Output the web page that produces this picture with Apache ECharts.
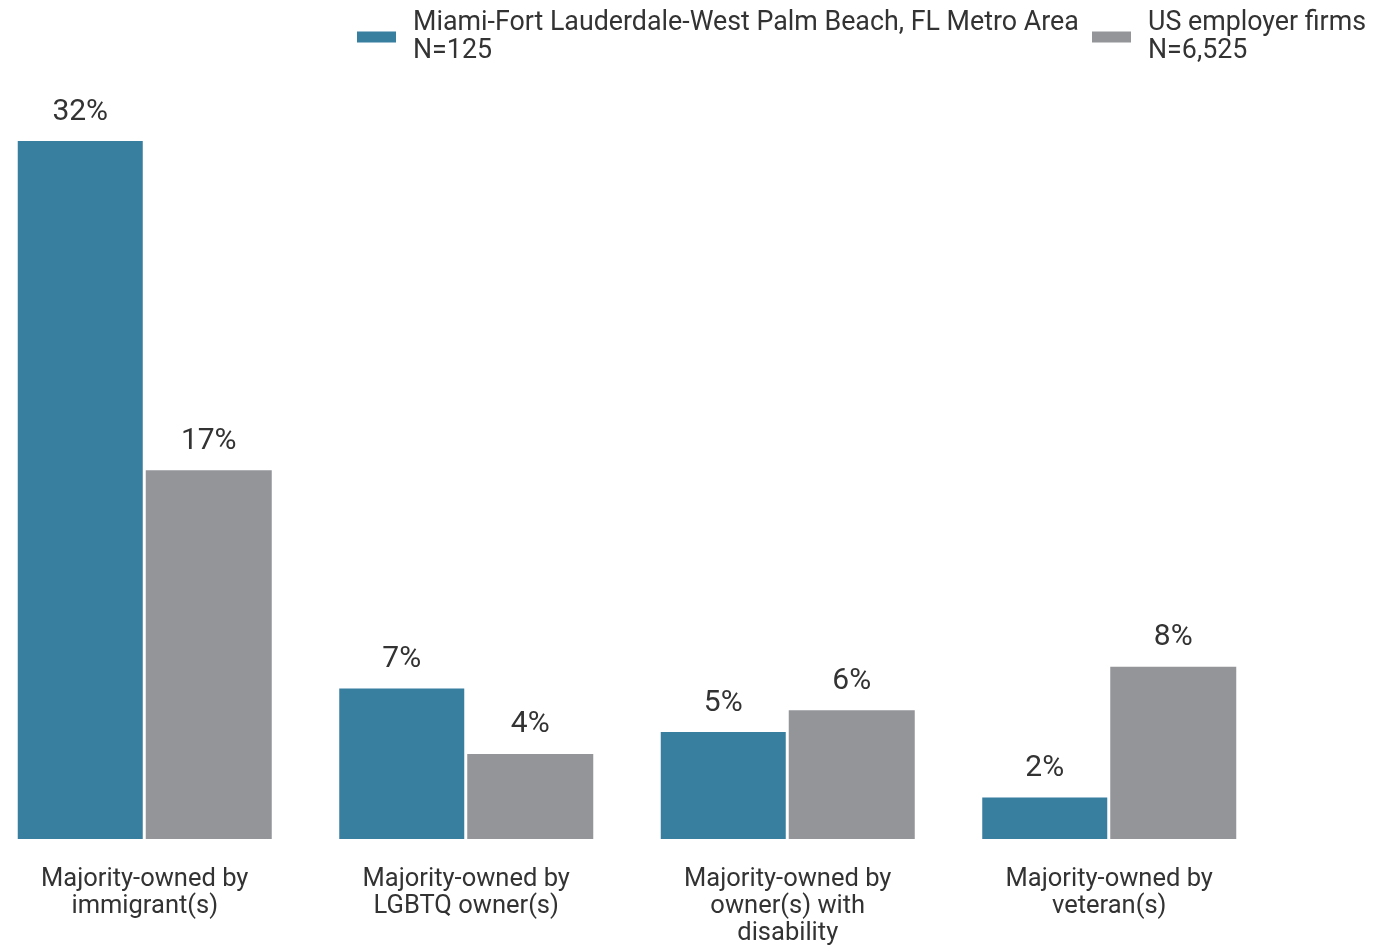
<!DOCTYPE html>
<html>
<head>
<meta charset="UTF-8">
<title></title>
<style>
  html, body { margin: 0; padding: 0; background: #fff; overflow: hidden; }
  #main { width: 1389px; height: 947px; margin-left: -16px; }
</style>
</head>
<body>
<div id="main"></div>
<script type="text/javascript" src="https://cdn.jsdelivr.net/npm/echarts@6/dist/echarts.min.js"></script>
<script type="text/javascript">
var categories = ['Majority-owned by\nimmigrant(s)', 'Majority-owned by\nLGBTQ owner(s)', 'Majority-owned by\nowner(s) with\ndisability', 'Majority-owned by\nveteran(s)'];
var seriesNames = ['Miami-Fort Lauderdale-West Palm Beach, FL Metro Area\nN=125', 'US employer firms\nN=6,525'];
var miamiValues = [32, 6.9, 4.9, 1.9];
var usValues = [16.9, 3.9, 5.9, 7.9];
var colors = ['#377e9f', '#939598'];

var myChart = echarts.init(document.getElementById('main'));
var font = 'Roboto, "Noto Sans", sans-serif';

var barLabel = {
	show: true,
	position: 'top',
	distance: 14,
	fontSize: 30,
	fontFamily: font,
	color: '#333',
	formatter: function (p) { return Math.round(p.value) + '%'; }
};

var legendText = { fontSize: 26.8, lineHeight: 28, color: '#333', fontFamily: font, padding: [0, 0, 0, 12] };

var option = {
	color: colors,
	animation: false,
	textStyle: { fontFamily: font },
	legend: [{
		data: [seriesNames[0]],
		icon: 'rect',
		left: 368,
		top: 4,
		itemWidth: 39,
		itemHeight: 11,
		textStyle: legendText
	}, {
		data: [seriesNames[1]],
		icon: 'rect',
		left: 1103,
		top: 4,
		itemWidth: 39,
		itemHeight: 11,
		textStyle: legendText
	}],
	grid: {
		left: 0,
		width: 1286,
		top: 141,
		height: 702,
		containLabel: false
	},
	xAxis: {
		type: 'category',
		data: categories,
		axisLine: { show: false },
		axisTick: { show: false },
		axisLabel: {
			interval: 0,
			margin: 27,
			fontSize: 25.5,
			lineHeight: 27,
			color: '#333',
			fontFamily: font
		}
	},
	yAxis: {
		type: 'value',
		min: 0,
		max: 32,
		show: false,
		splitLine: { show: false }
	},
	series: [{
		name: seriesNames[0],
		type: 'bar',
		data: miamiValues,
		barWidth: 125,
		barGap: '2.4%',
		itemStyle: { color: colors[0] },
		label: barLabel
	}, {
		name: seriesNames[1],
		type: 'bar',
		data: usValues,
		barWidth: 126,
		barGap: '2.4%',
		itemStyle: { color: colors[1] },
		label: barLabel
	}]
};
myChart.setOption(option);
</script>
</body>
</html>
